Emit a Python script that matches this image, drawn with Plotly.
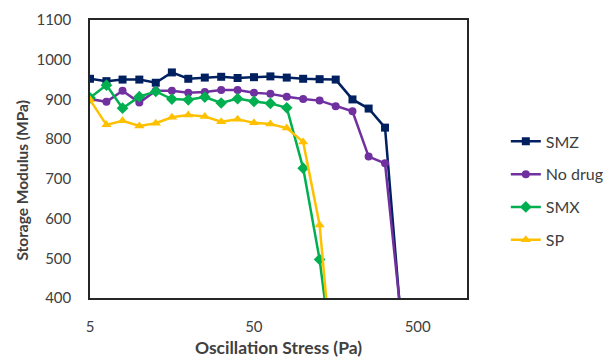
import plotly.graph_objects as go

# Oscillation stress sweep (Pa), 10 points per decade starting at 5 Pa
stress = [5.0, 6.3, 7.9, 10.0, 12.6, 15.8, 19.9, 25.1, 31.6, 39.8,
          50.1, 63.1, 79.4, 100, 126, 158, 200, 251, 316, 398]

# Storage modulus (MPa) for each formulation
smz = [952, 946, 950, 950, 942, 968, 952, 955, 957, 954,
       956, 958, 955, 952, 951, 950, 900, 877, 829, 330]
no_drug = [901, 894, 922, 892, 922, 922, 917, 919, 924, 924,
           917, 914, 907, 901, 897, 883, 870, 756, 739, 343]
smx = [904, 936, 878, 907, 920, 901, 899, 906, 891, 902,
       895, 890, 879, 727, 497, 180]
sp = [899, 836, 846, 833, 840, 855, 861, 857, 844, 850,
      841, 838, 828, 793, 584, 135]

series_names = ["SMZ", "No drug", "SMX", "SP"]
series_values = [smz, no_drug, smx, sp]
colors = ["#002060", "#7030A0", "#00B050", "#FFC000"]
symbols = ["square", "circle", "diamond", "triangle-up"]
marker_sizes = [8, 8, 9, 9]

y_ticks = [400, 500, 600, 700, 800, 900, 1000, 1100]
x_ticks = [5, 50, 500]

FONT = "Lato, 'Open Sans', sans-serif"
TEXT = "#404040"

fig = go.Figure()
for name, vals, col, sym, ms in zip(series_names, series_values, colors, symbols, marker_sizes):
    fig.add_trace(go.Scatter(
        x=stress[:len(vals)], y=vals, name=name, mode="lines+markers",
        legendgroup=name,
        line=dict(color=col, width=2.5),
        marker=dict(symbol=sym, size=ms, color=col),
    ))

fig.update_layout(
    width=608, height=358,
    margin=dict(l=90, r=141, t=20, b=60, autoexpand=False),
    paper_bgcolor="white", plot_bgcolor="white",
    font=dict(family=FONT, size=15, color=TEXT),
    showlegend=True,
    legend=dict(x=1.103, xanchor="left", y=0.385, yanchor="middle",
                font=dict(size=16, color=TEXT),
                tracegroupgap=9, bgcolor="rgba(0,0,0,0)"),
    annotations=[dict(
        text="<b>Storage Modulus (MPa)</b>", textangle=-90,
        xref="paper", yref="paper", x=-0.181, y=0.425,
        xanchor="center", yanchor="middle", showarrow=False,
        font=dict(size=15.5, color=TEXT),
    )],
)

fig.update_xaxes(
    type="log", range=[0.69897, 3.0],
    tickvals=x_ticks, ticktext=[str(v) for v in x_ticks],
    showgrid=False, zeroline=False,
    showline=True, linecolor="#262626", linewidth=1.5, mirror=True,
    ticks="outside", ticklen=14, tickcolor="rgba(0,0,0,0)",
    tickfont=dict(size=15, color=TEXT),
    title=dict(text="<b>Oscillation Stress (Pa)</b>", standoff=20,
               font=dict(size=17.5, color=TEXT)),
)
fig.update_yaxes(
    range=[400, 1100],
    tickvals=y_ticks,
    showgrid=False, zeroline=False,
    showline=True, linecolor="#262626", linewidth=1.5, mirror=True,
    ticks="outside", ticklen=14, tickcolor="rgba(0,0,0,0)",
    tickfont=dict(size=15, color=TEXT),
)

fig.write_html("out.html")
